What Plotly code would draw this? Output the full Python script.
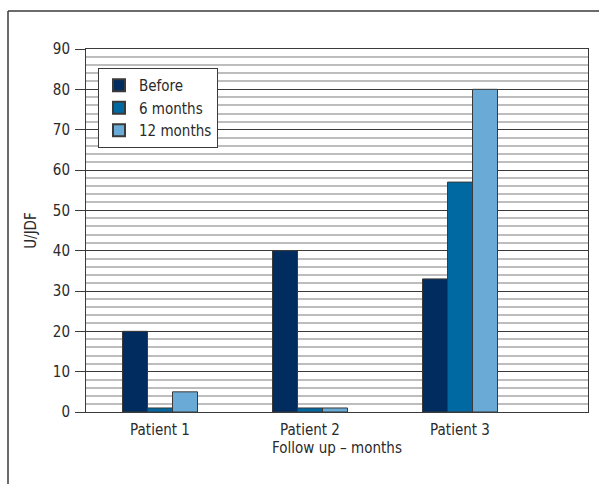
import plotly.graph_objects as go

categories = ["Patient 1", "Patient 2", "Patient 3"]
before = [20, 40, 33]
six_months = [1, 1, 57]
twelve_months = [5, 1, 80]
series_names = ["Before", "6 months", "12 months"]
colors = ["#002C5F", "#0069A1", "#69ABD6"]

x_pos = [1, 2, 3]
FONT = "DejaVu Sans Condensed, Liberation Sans Narrow, sans-serif"
TXT = "#2a2a2a"
FS = 15

fig = go.Figure()
for name, vals, col in zip(series_names, [before, six_months, twelve_months], colors):
    fig.add_trace(go.Bar(
        x=x_pos, y=vals, name=name,
        marker=dict(color=col, line=dict(color="#3a3a3a", width=1)),
    ))

# plot area geometry in px
L, R, T, B = 86, 588, 49, 412
W, H = R - L, B - T
fig.update_layout(
    width=599, height=484,
    margin=dict(l=L, r=599 - R, t=T, b=484 - B, pad=0, autoexpand=False),
    paper_bgcolor="white", plot_bgcolor="white",
    barmode="group", bargap=0.5, bargroupgap=0,
    font=dict(family=FONT, size=FS, color=TXT),
    showlegend=True,
    legend=dict(
        x=(98 - L) / W, y=(B - 68) / H, xanchor="left", yanchor="top",
        bgcolor="white", bordercolor="#3a3a3a", borderwidth=1,
        font=dict(family=FONT, size=FS, color=TXT),
        tracegroupgap=0, itemsizing="constant", itemwidth=30,
    ),
    xaxis=dict(
        range=[1 - 74 / 150, 3 + 128 / 150],
        tickvals=x_pos, ticktext=categories,
        showgrid=False, zeroline=False,
        showline=True, linecolor="#3a3a3a", linewidth=1, mirror=True,
        ticks="", ticklabelstandoff=4,
        title=dict(text="Follow up – months", standoff=3,
                   font=dict(family=FONT, size=FS, color=TXT)),
    ),
    yaxis=dict(
        range=[0, 90], dtick=10, tick0=0,
        showgrid=True, gridcolor="#3a3a3a", gridwidth=1,
        zeroline=False,
        showline=True, linecolor="#3a3a3a", linewidth=1, mirror=True,
        ticks="outside", ticklen=10, tickcolor="#3a3a3a", tickwidth=1,
        ticklabelstandoff=2,
        minor=dict(dtick=2, showgrid=True, gridcolor="#bdbdbd", gridwidth=1.5),
        title=dict(text="U/JDF", standoff=12,
                   font=dict(family=FONT, size=FS, color=TXT)),
    ),
    shapes=[
        dict(type="line", xref="paper", yref="paper",
             x0=(8 - L) / W, x1=(605 - L) / W, y0=(B - 11) / H, y1=(B - 11) / H,
             line=dict(color="#3a3a3a", width=1.5)),
        dict(type="line", xref="paper", yref="paper",
             x0=(8 - L) / W, x1=(8 - L) / W, y0=(B - 11) / H, y1=(B - 490) / H,
             line=dict(color="#3a3a3a", width=1.5)),
    ],
)

fig.write_html("out.html", config={"displayModeBar": False},
               post_script="document.body.style.margin='0px';")
